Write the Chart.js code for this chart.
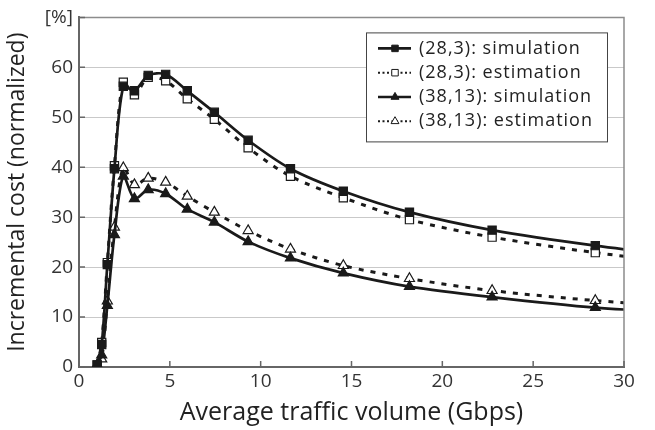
<!DOCTYPE html>
<html>
<head>
<meta charset="utf-8">
<script src="https://cdn.jsdelivr.net/npm/chart.js@4.4.1/dist/chart.umd.min.js"></script>
<style>
  html, body { margin: 0; padding: 0; background: #fff; }
  #wrap { width: 655px; height: 430px; }
</style>
</head>
<body>
<div id="wrap"><canvas id="chart"></canvas></div>
<script>
// traffic volume (Gbps) for each measurement; last one lies past the axis end
const traffic = [1.0, 1.25, 1.56, 1.95, 2.44, 3.05, 3.81, 4.77, 5.96, 7.45, 9.31, 11.64, 14.55, 18.19, 22.74, 28.42, 35.53];

const sim28 = [0.4, 4.5, 20.5, 39.7, 56.2, 55.3, 58.4, 58.6, 55.3, 51.0, 45.4, 39.7, 35.2, 31.0, 27.4, 24.3, 21.2];
const est28 = [0.4, 4.9, 20.9, 40.3, 57.0, 54.5, 58.0, 57.3, 53.7, 49.6, 43.9, 38.2, 33.9, 29.5, 26.0, 22.9, 19.8];
const sim38 = [0.4, 2.4, 12.3, 26.5, 38.2, 33.7, 35.5, 34.7, 31.6, 29.0, 25.1, 21.8, 18.8, 16.1, 14.0, 11.9, 10.4];
const est38 = [0.4, 1.6, 13.2, 28.0, 39.9, 36.5, 37.8, 37.0, 34.2, 31.0, 27.3, 23.6, 20.3, 17.7, 15.3, 13.3, 11.5];

const seriesLabels = ['(28,3): simulation', '(28,3): estimation', '(38,13): simulation', '(38,13): estimation'];
const yTickLabels = ['0', '10', '20', '30', '40', '50', '60', '[%]'];

const FONT = '"Open Sans", "DejaVu Sans", sans-serif';
const INK = '#1a1a1a';

function pts(ys) {
  return traffic.map((x, i) => ({ x, y: ys[i] }));
}

function series(label, ys, style, filled, dashed) {
  return {
    label,
    data: pts(ys),
    borderColor: INK,
    borderWidth: dashed ? 3 : 2.7,
    borderDash: dashed ? [5, 7] : [],
    pointStyle: style,
    pointRadius: 5.8,
    pointBorderWidth: 1.2,
    pointBorderColor: INK,
    pointBackgroundColor: filled ? INK : '#fff',
    tension: 0.3,
    fill: false,
  };
}

// frame, inward tick marks and the boxed legend
const decor = {
  id: 'decor',
  afterDraw(chart) {
    const { ctx, chartArea: a, scales } = chart;
    ctx.save();
    ctx.strokeStyle = '#8c8c8c';
    ctx.lineWidth = 1.5;
    ctx.beginPath();
    ctx.moveTo(a.left, a.top);
    ctx.lineTo(a.right, a.top);
    ctx.lineTo(a.right, a.bottom);
    ctx.stroke();

    ctx.strokeStyle = '#666';
    ctx.lineWidth = 1.5;
    ctx.beginPath();
    scales.x.ticks.forEach((t) => {
      const px = scales.x.getPixelForValue(t.value);
      ctx.moveTo(px, a.bottom);
      ctx.lineTo(px, a.bottom - 6);
    });
    scales.y.ticks.forEach((t) => {
      const py = scales.y.getPixelForValue(t.value);
      ctx.moveTo(a.left, py);
      ctx.lineTo(a.left + 6, py);
    });
    ctx.stroke();

    // legend box
    const bx = a.right - 258, by = a.top + 15, bw = 241, bh = 109;
    ctx.fillStyle = '#fff';
    ctx.fillRect(bx, by, bw, bh);
    ctx.strokeStyle = '#444';
    ctx.lineWidth = 1;
    ctx.strokeRect(bx + 0.5, by + 0.5, bw, bh);

    ctx.font = '18px ' + FONT;
    ctx.textBaseline = 'middle';
    ctx.textAlign = 'left';
    chart.data.datasets.forEach((ds, i) => {
      const ry = by + 16 + i * 24.3;
      const dashed = ds.borderDash.length > 0;
      ctx.strokeStyle = INK;
      ctx.lineWidth = dashed ? 2 : 2.7;
      ctx.setLineDash(dashed ? [2, 2.5] : []);
      ctx.beginPath();
      ctx.moveTo(bx + 12, ry);
      ctx.lineTo(bx + 45, ry);
      ctx.stroke();
      ctx.setLineDash([]);
      ctx.fillStyle = ds.pointBackgroundColor;
      ctx.strokeStyle = INK;
      ctx.lineWidth = 1;
      Chart.helpers.drawPoint(ctx, { pointStyle: ds.pointStyle, radius: 4.6, rotation: 0, borderWidth: 1 }, bx + 29, ry);
      ctx.fillStyle = '#222';
      ctx.letterSpacing = '1px';
      ctx.fillText(ds.label, bx + 53, ry);
      ctx.letterSpacing = '0px';
    });
    ctx.restore();
  },
};

new Chart(document.getElementById('chart'), {
  type: 'line',
  data: {
    datasets: [
      series(seriesLabels[0], sim28, 'rect', true, false),
      series(seriesLabels[1], est28, 'rect', false, true),
      series(seriesLabels[2], sim38, 'triangle', true, false),
      series(seriesLabels[3], est38, 'triangle', false, true),
    ],
  },
  options: {
    responsive: true,
    maintainAspectRatio: false,
    animation: false,
    layout: { padding: { top: 17, right: 31, left: 0, bottom: 0 } },
    plugins: {
      legend: { display: false },
      tooltip: { enabled: false },
    },
    scales: {
      x: {
        type: 'linear',
        min: 0,
        max: 30,
        ticks: { stepSize: 5, color: '#333', padding: 3, font: { family: FONT, size: 19 }, maxRotation: 0 },
        grid: { display: false, drawTicks: false },
        border: { display: true, color: '#666', width: 2 },
        title: { display: true, text: 'Average traffic volume (Gbps)', color: '#222', font: { family: FONT, size: 25 }, padding: { top: 0, bottom: 2 } },
        afterFit(scale) { scale.height = 63; },
      },
      y: {
        min: 0,
        max: 70,
        ticks: {
          stepSize: 10,
          color: '#333',
          padding: 6,
          font: { family: FONT, size: 19 },
          callback: (v) => yTickLabels[Math.round(v / 10)],
        },
        grid: { color: '#c9c9c9', lineWidth: 1, drawTicks: false },
        border: { display: true, color: '#666', width: 2 },
        title: { display: true, text: 'Incremental cost (normalized)', color: '#222', font: { family: FONT, size: 23 }, padding: { top: 4, bottom: 0 } },
        afterFit(scale) { scale.width = 79; },
      },
    },
  },
  plugins: [decor],
});
</script>
</body>
</html>
